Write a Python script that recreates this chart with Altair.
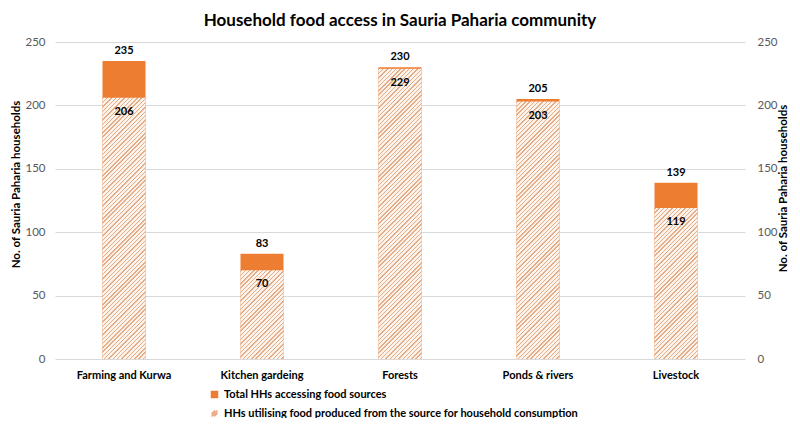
import altair as alt
import pandas as pd

categories = ["Farming and Kurwa", "Kitchen gardeing", "Forests", "Ponds & rivers", "Livestock"]
total_hhs = [235, 83, 230, 205, 139]
utilising_hhs = [206, 70, 229, 203, 119]
series_names = [
    "Total HHs accessing food sources",
    "HHs utilising food produced from the source for household consumption",
]
y_ticks = [0, 50, 100, 150, 200, 250]

PLOT_W, PLOT_H = 690, 317
BAR_W = 43
Y_MAX = 250
ORANGE = "#ED7D31"
HATCH_LINE = "#E6AC85"
HATCH_GAP = "#FCF3EC"
FONT = "Lato"
AXIS_TITLE = "No. of Sauria Paharia households"

df = pd.DataFrame({"category": categories, "total": total_hhs, "util": utilising_hhs})
legend_df = pd.DataFrame({"series": series_names})


def hatch_gradient(value, period=4.3, line=1.4):
    h = value / Y_MAX * PLOT_H
    w = BAR_W
    length = w + h
    k = length / (w * w + h * h)
    stops = []
    i = 0
    while i * period < length:
        t0 = round(i * period / length, 5)
        t1 = round(min((i * period + line) / length, 1.0), 5)
        t2 = round(min((i + 1) * period / length, 1.0), 5)
        stops += [
            {"offset": t0, "color": HATCH_LINE},
            {"offset": t1, "color": HATCH_LINE},
            {"offset": t1, "color": HATCH_GAP},
            {"offset": t2, "color": HATCH_GAP},
        ]
        i += 1
    return {"gradient": "linear", "x1": 0, "y1": 0, "x2": k * w, "y2": k * h, "stops": stops}


x_enc = alt.X(
    "category:N",
    sort=categories,
    scale=alt.Scale(paddingInner=0, paddingOuter=0),
    axis=alt.Axis(
        title=None, labelAngle=0, ticks=False, domain=False, labelFont=FONT,
        labelFontSize=11, labelFontWeight="bold", labelColor="#000000", labelPadding=10,
    ),
)

left_axis = alt.Axis(
    values=y_ticks, grid=True, gridColor="#D9D9D9", domain=False, ticks=False,
    labelColor="#595959", labelFont=FONT, labelFontSize=11.5, labelPadding=10,
    title=AXIS_TITLE, titleFont=FONT, titleFontSize=11.5, titleFontWeight="bold",
    titleColor="#000000", titlePadding=3, titleY=142,
)
right_axis = alt.Axis(
    orient="right", values=y_ticks, grid=False, domain=False, ticks=False,
    labelColor="#595959", labelFont=FONT, labelFontSize=11.5, labelPadding=12,
    title=AXIS_TITLE, titleFont=FONT, titleFontSize=11.5, titleFontWeight="bold",
    titleColor="#000000", titlePadding=11, titleAngle=270, titleY=146,
)
y_scale = alt.Scale(domain=[0, Y_MAX])

base = alt.Chart(df)

total_bars = base.mark_bar(color=ORANGE, size=BAR_W).encode(
    x=x_enc, y=alt.Y("total:Q", scale=y_scale, axis=left_axis)
)

hatch_layers = []
for cat, val in zip(categories, utilising_hhs):
    hatch_layers.append(
        base.transform_filter(alt.datum.category == cat)
        .mark_bar(color=hatch_gradient(val), size=BAR_W)
        .encode(x=x_enc, y=alt.Y("util:Q", scale=y_scale, axis=left_axis))
    )

text_total = base.mark_text(
    baseline="bottom", dy=-5, font=FONT, fontSize=11, fontWeight="bold", color="#000000"
).encode(x=x_enc, y=alt.Y("total:Q", scale=y_scale, axis=left_axis), text="total:Q")

text_util = base.mark_text(
    baseline="top", dy=8, font=FONT, fontSize=11, fontWeight="bold", color="#000000"
).encode(x=x_enc, y=alt.Y("util:Q", scale=y_scale, axis=left_axis), text="util:Q")

hatch_symbol = "M-1,0.2L0.2,-1M-1,1L1,-1M-0.2,1L1,-0.2"
legend_kw = dict(
    title=None, orient="none", legendX=154, legendY=347, padding=0,
    labelFont=FONT, labelFontSize=11, labelFontWeight="bold", labelColor="#000000",
    symbolSize=36, labelOffset=4, rowPadding=6, labelLimit=600, symbolOpacity=1,
)
legend_points = alt.Chart(legend_df).mark_point(filled=True, size=0, opacity=1).encode(
    fill=alt.Fill(
        "series:N",
        scale=alt.Scale(domain=series_names, range=[ORANGE, "transparent"]),
        legend=alt.Legend(**legend_kw),
    ),
    stroke=alt.Stroke(
        "series:N",
        scale=alt.Scale(domain=series_names, range=[ORANGE, "#E8A67A"]),
        legend=alt.Legend(**legend_kw),
    ),
    shape=alt.Shape(
        "series:N",
        scale=alt.Scale(domain=series_names, range=["square", hatch_symbol]),
        legend=alt.Legend(**legend_kw),
    ),
)

content = alt.layer(total_bars, *hatch_layers, text_total, text_util, legend_points)

right_layer = base.mark_bar(opacity=0, size=BAR_W).encode(
    x=x_enc, y=alt.Y("total:Q", scale=y_scale, axis=right_axis)
)

chart = (
    alt.layer(content, right_layer)
    .resolve_scale(y="independent")
    .properties(
        width=PLOT_W,
        height=PLOT_H,
        autosize=alt.AutoSizeParams(type="none"),
        padding={"left": 47, "top": 34, "right": 47, "bottom": 59},
        title=alt.Title(
            "Household food access in Sauria Paharia community",
            font=FONT, fontSize=17, fontWeight="bold", color="#000000",
            anchor="middle", frame="group", offset=6,
        ),
    )
    .configure_view(stroke=None)
)

chart.save("out.html", embed_options={"renderer": "svg", "actions": False})
